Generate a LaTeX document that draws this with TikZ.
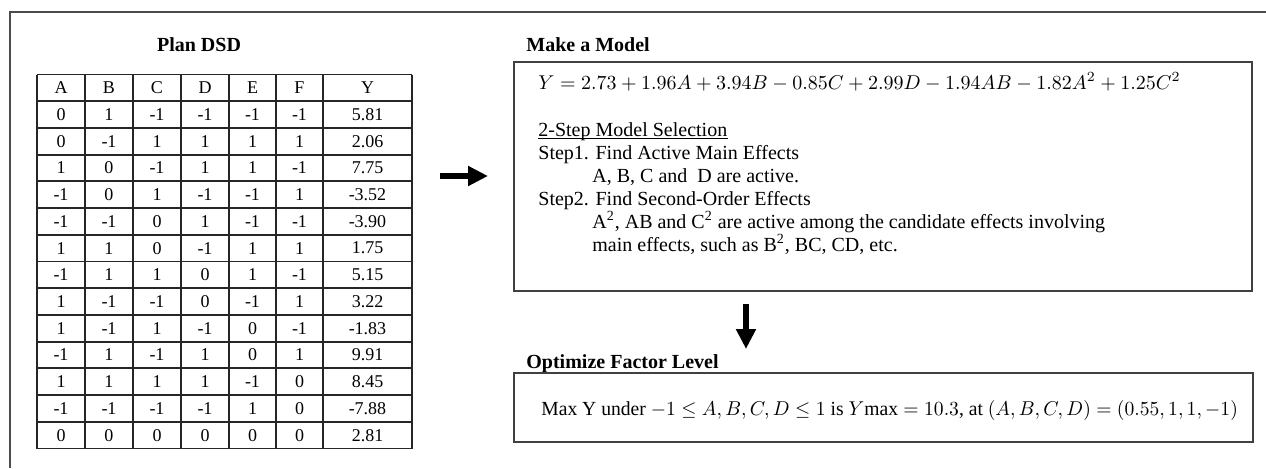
\documentclass[tikz,border=0pt]{standalone}
\usepackage{fontspec}
\setmainfont{Liberation Serif}
\usepackage{amsmath}
\usetikzlibrary{arrows.meta}
\usetikzlibrary{positioning}

\tikzset{
  tabline/.style={line width=0.9pt, draw=black!85},
  cell/.style={font=\fontsize{9}{10}\selectfont, inner sep=0pt},
  boxframe/.style={draw=black!75, line width=0.8pt, inner sep=0pt},
  title/.style={font=\fontsize{10}{12}\selectfont\bfseries, anchor=base west, inner sep=0pt},
  bodytext/.style={font=\fontsize{10}{12}\selectfont, anchor=base west, inner sep=0pt},
  bigarrow/.style={line width=3.2pt, -{Triangle[length=10pt,width=9.5pt]}}
}

\begin{document}
\begin{tikzpicture}[x=0.5pt, y=-0.5pt]
	\useasboundingbox (0,0) rectangle (1266,468);
	
	% outer frame
	\draw[draw=black!70, line width=1pt] (10,468) -- (10,12) -- (1266,12);
	
	% Plan DSD
	\node[font=\fontsize{10}{12}\selectfont\bfseries] (plan) at (199,45) {Plan DSD};
	
	% table grid
	\foreach \x in {37,85,133,181,229,276,323,412}
		\draw[tabline] (\x,74.5) -- (\x,448.5);
	\foreach \r in {0,...,14}
		\draw[tabline] (37,{74.5+\r*26.714}) -- (412,{74.5+\r*26.714});
	
	% header
	\foreach \h/\cx [count=\c] in {A/61,B/109,C/157,D/205,E/252.5,F/299.5,Y/367.5}
		\node[cell] (h-\c) at (\cx,{74.5+0.5*26.714}) {\h};
	
	% runs
	\foreach \row [count=\r] in {{0,1,-1,-1,-1,-1,5.81},{0,-1,1,1,1,1,2.06},
		{1,0,-1,1,1,-1,7.75},{-1,0,1,-1,-1,1,-3.52},{-1,-1,0,1,-1,-1,-3.90},
		{1,1,0,-1,1,1,1.75},{-1,1,1,0,1,-1,5.15},{1,-1,-1,0,-1,1,3.22},
		{1,-1,1,-1,0,-1,-1.83},{-1,1,-1,1,0,1,9.91},{1,1,1,1,-1,0,8.45},
		{-1,-1,-1,-1,1,0,-7.88},{0,0,0,0,0,0,2.81}}
	{
		\foreach \v [count=\c] in \row {
			\pgfmathsetmacro{\cx}{{61,109,157,205,252.5,299.5,367.5}[\c-1]}
			\node[cell] (c-\r-\c) at (\cx,{74.5+(\r+0.5)*26.714}) {\v};
		}
	}
	
	% arrow to the model
	\coordinate (r1) at (440,176);
	\coordinate (r2) at (488,176);
	\draw[bigarrow] (r1) -- (r2);
	
	% Make a Model
	\node[title] (mk) at (526,51) {Make a Model};
	\node[boxframe, minimum width=369pt, minimum height=114.5pt] (model) at (883,176.5) {};
	\node[bodytext] (eq) at (538,89)
	{$Y = 2.73 + 1.96A + 3.94B - 0.85C + 2.99D - 1.94AB - 1.82A^2 + 1.25C^2$};
	\node[bodytext] (sel) at (538,136) {2-Step Model Selection};
	\draw[line width=0.5pt] ([yshift=-1.3pt]sel.base west) -- ([yshift=-1.3pt]sel.base east);
	\node[bodytext] (st1) at (538,159) {Step1. Find Active Main Effects};
	\node[bodytext] (st1a) at (592,182) {A, B, C and\ \ D are active.};
	\node[bodytext] (st2) at (538,205) {Step2. Find Second-Order Effects};
	\node[bodytext] (st2a) at (592,228) {A\textsuperscript{2}, AB and C\textsuperscript{2} are active among the candidate effects involving};
	\node[bodytext] (st2b) at (592,251) {main effects, such as B\textsuperscript{2}, BC, CD, etc.};
	
	% arrow to the optimum
	\coordinate (d1) at (746,304);
	\coordinate (d2) at (746,349);
	\draw[bigarrow] (d1) -- (d2);
	
	% Optimize Factor Level
	\node[title] (opt) at (526,368) {Optimize Factor Level};
	\node[boxframe, minimum width=369.5pt, minimum height=34.5pt] (optbox) at (883.5,407.5) {};
	\node[bodytext] (res) at (541,415)
	{\scalebox{0.98}[1]{Max Y under $-1 \le A, B, C, D \le 1$ is $Y\mathrm{max} = 10.3$, at $(A, B, C, D) = (0.55, 1, 1, -1)$}};
	
\end{tikzpicture}
\end{document}
